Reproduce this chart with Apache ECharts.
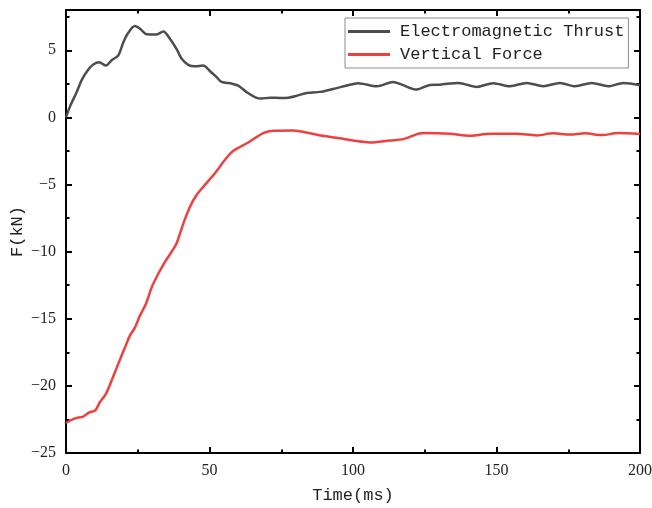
<!DOCTYPE html>
<html>
<head>
<meta charset="utf-8">
<script src="https://cdn.jsdelivr.net/npm/echarts@6/dist/echarts.min.js"></script>
<style>html,body{margin:0;padding:0;background:#fff;}#c{width:652px;height:508px;}</style>
</head>
<body>
<div id="c"></div>
<script>
var seriesNames = ['Electromagnetic Thrust', 'Vertical Force'];
var thrust = [[0,0],[1.4,0.82],[3.7,1.87],[5.5,2.8],[7.8,3.56],[9.5,3.94],[11.6,4.11],[13.9,3.86],[15.9,4.26],[18.2,4.61],[20,5.6],[21.7,6.3],[24,6.8],[25.8,6.6],[28.1,6.2],[31.6,6.18],[33.9,6.4],[36.2,5.86],[38.6,5.06],[40.3,4.36],[42.6,3.91],[44.9,3.81],[47.8,3.86],[50.2,3.44],[52.5,3.0],[54.2,2.64],[57.7,2.52],[60,2.37],[63,1.87],[66.4,1.45],[68.2,1.4],[71.1,1.47],[74.6,1.45],[77.5,1.47],[80.9,1.64],[83.9,1.82],[88.5,1.9],[93.1,2.12],[97.8,2.37],[101.8,2.55],[108.3,2.32],[114,2.64],[117,2.44],[122.2,2.07],[126.8,2.42],[130.3,2.44],[136.7,2.57],[143.1,2.27],[148.9,2.55],[154.7,2.32],[160.5,2.57],[166.3,2.32],[172.1,2.57],[177.4,2.32],[183.2,2.57],[189,2.32],[194.2,2.57],[200,2.4]];
var vertical = [[0,-22.75],[3.1,-22.42],[6,-22.29],[8.1,-21.97],[10.1,-21.85],[11.8,-21.22],[13.9,-20.6],[15.9,-19.6],[18.2,-18.36],[20.6,-17.11],[22.3,-16.24],[24,-15.66],[25.8,-14.75],[27.9,-13.87],[29.9,-12.63],[32.2,-11.63],[34.5,-10.76],[36.8,-10.01],[38.5,-9.4],[40.9,-7.89],[43.2,-6.65],[45.5,-5.78],[48.4,-5.03],[51.9,-4.16],[55.4,-3.16],[58.3,-2.49],[63.5,-1.87],[68.7,-1.17],[72.2,-0.99],[79.2,-0.97],[87.4,-1.29],[95.5,-1.56],[100,-1.72],[105.9,-1.87],[112.9,-1.72],[117.5,-1.62],[124.5,-1.17],[133.8,-1.22],[140.8,-1.37],[147.7,-1.22],[157,-1.22],[164,-1.34],[169.8,-1.19],[175.6,-1.27],[180.8,-1.19],[186.7,-1.32],[192.4,-1.17],[200,-1.24]];
var xMin = 0, xMax = 200, xStep = 50;
var yMin = -25, yMax = 8, yStep = 5;
var xName = 'Time(ms)', yName = 'F(kN)';

var chart = echarts.init(document.getElementById('c'), null, {renderer: 'canvas'});
var axisCommon = {
  axisLine: {show: true, onZero: false, lineStyle: {color: '#000', width: 2}},
  axisTick: {show: true, inside: true, length: 6, lineStyle: {color: '#000', width: 2}},
  minorTick: {show: true, splitNumber: 2, length: 3.5, lineStyle: {color: '#000', width: 2}},
  splitLine: {show: false}
};
function fmt(v){ return String(v).replace('-', '\u2212'); }
var labelStyle = {color: '#222', fontFamily: 'Liberation Serif', fontSize: 16};
var option = {
  animation: false,
  backgroundColor: '#fff',
  grid: {left: 66, top: 10, right: 12, bottom: 55, containLabel: false, outerBoundsMode: 'none'},
  legend: {
    orient: 'vertical', left: 345, top: 18,
    padding: [5, 4, 5, 3], itemGap: 6,
    borderColor: '#8c8c8c', borderWidth: 1,
    itemWidth: 42, itemHeight: 3, icon: 'rect',
    textStyle: {fontFamily: 'Liberation Mono', fontSize: 17, color: '#222', padding: [0, 0, 0, 5]},
    data: seriesNames
  },
  xAxis: [
    Object.assign({type: 'value', min: xMin, max: xMax, interval: xStep, position: 'bottom',
      name: xName, nameLocation: 'middle', nameGap: 34, nameMoveOverlap: false,
      nameTextStyle: {fontFamily: 'Liberation Mono', fontSize: 17, color: '#222'},
      axisLabel: Object.assign({margin: 10, formatter: fmt}, labelStyle)}, axisCommon),
    Object.assign({type: 'value', min: xMin, max: xMax, interval: xStep, position: 'top',
      axisLabel: {show: false}}, axisCommon)
  ],
  yAxis: [
    Object.assign({type: 'value', min: yMin, max: yMax, interval: yStep, position: 'left',
      name: yName, nameLocation: 'middle', nameGap: 40, nameMoveOverlap: false,
      nameTextStyle: {fontFamily: 'Liberation Mono', fontSize: 17, color: '#222'},
      axisLabel: Object.assign({margin: 10, formatter: fmt, showMaxLabel: false}, labelStyle)}, axisCommon),
    Object.assign({type: 'value', min: yMin, max: yMax, interval: yStep, position: 'right',
      axisLabel: {show: false}}, axisCommon)
  ],
  series: [
    {name: seriesNames[0], type: 'line', data: thrust, showSymbol: false, symbol: 'none', smooth: 0.3,
     lineStyle: {color: '#4d4d4d', width: 2.5}, itemStyle: {color: '#4d4d4d'}},
    {name: seriesNames[1], type: 'line', data: vertical, showSymbol: false, symbol: 'none', smooth: 0.3,
     lineStyle: {color: '#ef4040', width: 2.5}, itemStyle: {color: '#ef4040'}}
  ]
};
chart.setOption(option);
</script>
</body>
</html>
